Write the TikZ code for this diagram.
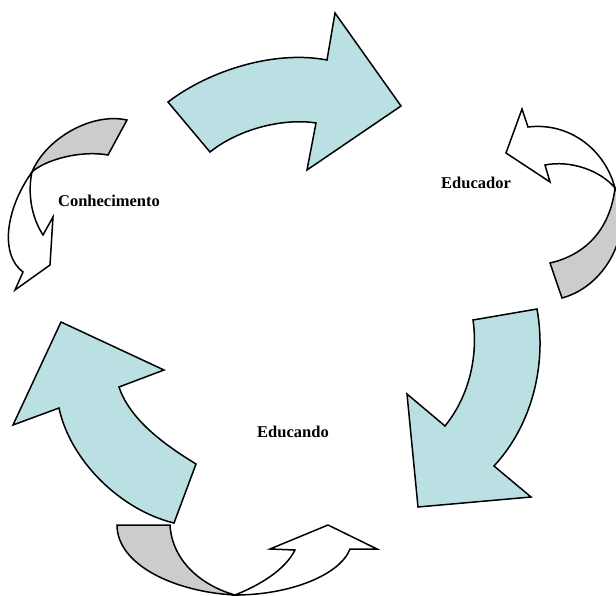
\documentclass[tikz,border=0pt]{standalone}
\usepackage{fontspec}
\setmainfont{Liberation Serif}
\definecolor{arrowblue}{RGB}{187,224,227}
\definecolor{arrowgray}{RGB}{204,204,204}
\begin{document}
\begin{tikzpicture}[x=1pt,y=-1pt,
  shapeline/.style={draw=black,line width=1.5pt,line join=miter},
  bluearrow/.style={shapeline,fill=arrowblue},
  grayback/.style={shapeline,fill=arrowgray},
  whitefront/.style={shapeline,fill=white},
  lbl/.style={font=\bfseries\fontsize{16.5}{19}\selectfont,text=black,inner sep=0pt}]
\useasboundingbox (0,0) rectangle (616,596);
\clip (0,0) rectangle (616,596);
% top big arrow
\path[bluearrow] (168,102) .. controls (210,70) and (275,50) .. (327,60)
  -- (335,13) -- (401,106) -- (307,170) -- (316,123)
  .. controls (285,118) and (240,128) .. (210,152) -- cycle;
% right big arrow
\path[bluearrow] (473,320) -- (537,309) .. controls (547,365) and (532,425) .. (494,466)
  -- (531,497) -- (418,507) -- (407,394) -- (445,426)
  .. controls (470,395) and (478,355) .. cycle;
% left big arrow
\path[bluearrow] (174,523) -- (196,464) .. controls (165,445) and (130,420) .. (119,387)
  -- (164,370) -- (61,322) -- (13,425) -- (59,408)
  .. controls (70,460) and (120,510) .. cycle;
% small arrow near Conhecimento
\path[grayback] (127,120) .. controls (90,112) and (45,140) .. (32,172)
  .. controls (45,160) and (80,150) .. (108,155) -- cycle;
\path[whitefront] (32,172) .. controls (5,210) and (0,255) .. (23,272)
  -- (15,290) -- (50,265) -- (53,217) -- (43,235)
  .. controls (30,215) and (28,190) .. cycle;
% small arrow near Educador
\path[grayback] (550,263) -- (562,298) .. controls (610,285) and (635,225) .. (615,188)
  .. controls (610,230) and (585,255) .. cycle;
\path[whitefront] (615,188) .. controls (605,150) and (570,122) .. (528,127)
  -- (522,109) -- (506,153) -- (550,182) -- (545,165)
  .. controls (570,160) and (600,170) .. cycle;
% small arrow near Educando
\path[grayback] (117,525) -- (170,525) .. controls (172,560) and (200,585) .. (235,595)
  .. controls (175,592) and (117,565) .. cycle;
\path[whitefront] (235,595) .. controls (260,585) and (285,570) .. (295,550)
  -- (270,549) -- (328,525) -- (377,549) -- (350,549)
  .. controls (340,575) and (290,595) .. cycle;
% labels
\node[lbl] (conhecimento) at (109,201) {Conhecimento};
\node[lbl] (educador) at (476,183) {Educador};
\node[lbl] (educando) at (293,432) {Educando};
\end{tikzpicture}
\end{document}
